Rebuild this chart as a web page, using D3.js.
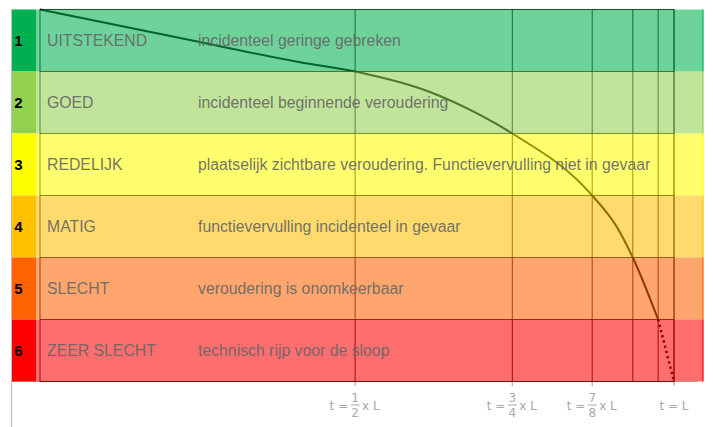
<!DOCTYPE html>
<html>
<head>
<meta charset="utf-8">
<script src="https://cdn.jsdelivr.net/npm/d3@7"></script>
<style>
  html, body { margin: 0; padding: 0; background: #fff; }
  svg { display: block; }
</style>
</head>
<body>
<svg id="chart" width="713" height="427"></svg>
<script>
// ---- data ----
const levels = ["1", "2", "3", "4", "5", "6"];
const levelNames = ["UITSTEKEND", "GOED", "REDELIJK", "MATIG", "SLECHT", "ZEER SLECHT"];
const levelDescriptions = [
  "incidenteel geringe gebreken",
  "incidenteel beginnende veroudering",
  "plaatselijk zichtbare veroudering. Functievervulling niet in gevaar",
  "functievervulling incidenteel in gevaar",
  "veroudering is onomkeerbaar",
  "technisch rijp voor de sloop"
];
const levelColors = ["#00b050", "#92d050", "#ffff00", "#ffc000", "#ff6200", "#ff0000"];

// time (fraction of lifetime L) of the vertical grid lines
const gridTimes = [0.497, 0.745, 0.871, 0.935, 0.975, 1];
// labelled ticks on the time axis
const tickTimes = [0.497, 0.745, 0.871, 1];
const tickNumerators = ["1", "3", "7", null];
const tickDenominators = ["2", "4", "8", null];

// degradation curve: time fraction vs. condition boundary reached
const curveTimes = [0, 0.221, 0.41, 0.497, 0.615, 0.694, 0.745, 0.871, 0.91, 0.935, 0.975];
const curveLevels = [0, 0.46, 0.85, 1, 1.33, 1.7, 2, 3, 3.51, 4, 5];
// dotted end of the curve
const endTimes = [0.975, 1];
const endLevels = [5, 6];

// ---- chart ----
const svg = d3.select("#chart");
const x = d3.scaleLinear().domain([0, 1]).range([40, 674]);
const y = d3.scaleLinear().domain([0, 6]).range([9.5, 381.5]);

// grey axes
svg.append("line").attr("x1", 11.5).attr("x2", 11.5).attr("y1", 9).attr("y2", 427)
  .attr("stroke", "#c0c0c0").attr("stroke-width", 1.2);
svg.append("line").attr("x1", 11).attr("x2", 697).attr("y1", 381.5).attr("y2", 381.5)
  .attr("stroke", "#b8b8b8").attr("stroke-width", 1.2);
svg.selectAll("line.tick").data(tickTimes).enter().append("line")
  .attr("class", "tick")
  .attr("x1", d => x(d)).attr("x2", d => x(d))
  .attr("y1", 381.5).attr("y2", 386)
  .attr("stroke", "#b0b0b0").attr("stroke-width", 1.2);

// dark grid (drawn under translucent bands)
const grid = svg.append("g").attr("stroke", "#000").attr("stroke-opacity", 0.8)
  .attr("stroke-width", 1.1).attr("fill", "none");
grid.append("rect").attr("x", x(0)).attr("y", y(0))
  .attr("width", x(1) - x(0)).attr("height", y(6) - y(0));
grid.selectAll("line.h").data(d3.range(1, 6)).enter().append("line")
  .attr("x1", x(0)).attr("x2", x(1)).attr("y1", d => y(d)).attr("y2", d => y(d));
grid.selectAll("line.v").data(gridTimes).enter().append("line")
  .attr("x1", d => x(d)).attr("x2", d => x(d)).attr("y1", y(0)).attr("y2", y(6));

// curve
const pts = curveTimes.map((t, i) => [t, curveLevels[i]]);
const line = d3.line().x(d => x(d[0])).y(d => y(d[1])).curve(d3.curveMonotoneX);
svg.append("path").datum(pts).attr("d", line)
  .attr("fill", "none").attr("stroke", "#000").attr("stroke-width", 2)
  .attr("stroke-linejoin", "round");
const endPts = endTimes.map((t, i) => [t, endLevels[i]]);
svg.append("path").datum(endPts).attr("d", d3.line().x(d => x(d[0])).y(d => y(d[1])))
  .attr("fill", "none").attr("stroke", "#000").attr("stroke-width", 2.6)
  .attr("stroke-dasharray", "2.2,3.2");

// translucent bands
const bands = svg.append("g");
levels.forEach((lv, i) => {
  bands.append("rect")
    .attr("x", 36).attr("y", y(i)).attr("width", 703 - 36).attr("height", y(i + 1) - y(i))
    .attr("fill", levelColors[i]).attr("fill-opacity", 0.57);
  bands.append("line")
    .attr("x1", 703).attr("x2", 703).attr("y1", y(i)).attr("y2", y(i + 1))
    .attr("stroke", levelColors[i]).attr("stroke-width", 1.2);
  // solid level column
  bands.append("rect")
    .attr("x", 12).attr("y", y(i)).attr("width", 24).attr("height", y(i + 1) - y(i))
    .attr("fill", levelColors[i]);
});

// texts
const txt = svg.append("g").attr("font-family", "Liberation Sans, Arial, sans-serif");
levels.forEach((lv, i) => {
  const cy = (y(i) + y(i + 1)) / 2;
  txt.append("text").attr("x", 18.5).attr("y", cy + 5.5)
    .attr("text-anchor", "middle").attr("font-size", 15).attr("font-weight", "bold")
    .attr("fill", "#000").text(lv);
  txt.append("text").attr("x", 47).attr("y", cy + 5.5)
    .attr("font-size", 15.8).attr("fill", "#666").attr("fill-opacity", 0.92).text(levelNames[i]);
  txt.append("text").attr("x", 198).attr("y", cy + 5.5)
    .attr("font-size", 15.8).attr("fill", "#666").attr("fill-opacity", 0.92).text(levelDescriptions[i]);
});

// time axis labels
const lab = svg.append("g").attr("font-family", "DejaVu Sans, sans-serif")
  .attr("font-size", 12).attr("fill", "#a8a8a8");
tickTimes.forEach((t, i) => {
  const cx = x(t);
  if (tickNumerators[i] === null) {
    lab.append("text").attr("x", cx).attr("y", 410).attr("text-anchor", "middle").text("t = L");
    return;
  }
  lab.append("text").attr("x", cx - 7).attr("y", 410).attr("text-anchor", "end").text("t =");
  lab.append("text").attr("x", cx).attr("y", 402).attr("text-anchor", "middle").text(tickNumerators[i]);
  lab.append("line").attr("x1", cx - 4.5).attr("x2", cx + 4.5).attr("y1", 405).attr("y2", 405)
    .attr("stroke", "#a8a8a8").attr("stroke-width", 1);
  lab.append("text").attr("x", cx).attr("y", 417).attr("text-anchor", "middle").text(tickDenominators[i]);
  lab.append("text").attr("x", cx + 7).attr("y", 410).text("x L");
});
</script>
</body>
</html>
